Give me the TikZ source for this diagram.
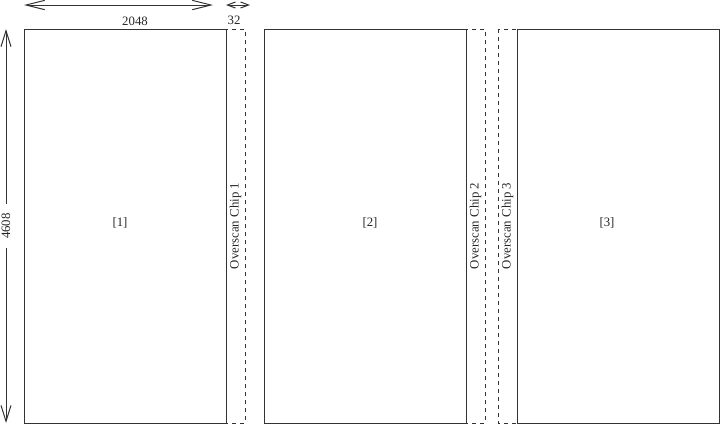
\documentclass[tikz,border=0pt]{standalone}
\usepackage{fontspec}
\setmainfont{Liberation Serif}
\usetikzlibrary{arrows.meta}
\begin{document}
\begin{tikzpicture}[x=0.75pt,y=-0.75pt,
  line width=0.75pt, draw=black!80,
  every node/.style={font=\fontsize{9.6}{11}\selectfont, text=black!85},
  chip/.style={draw=black!80, line width=0.75pt},
  over/.style={draw=black!80, line width=0.75pt, dash pattern=on 3pt off 3pt},
  lbl/.style={inner sep=0pt},
  olbl/.style={inner sep=0pt, rotate=90},
  dim/.style={draw=black!80, line width=0.75pt},
  bigtip/.style={Straight Barb[length=14pt,width=7pt]},
  smalltip/.style={Straight Barb[length=6pt,width=4.5pt]}
]
\useasboundingbox (0,0) rectangle (721,425);
% overscan strips (dashed)
\draw[over] (226,29) rectangle (245,423);
\draw[over] (466,29) rectangle (485,423);
\draw[over] (498,29) rectangle (517,423);
% chips
\draw[chip] (24,29) rectangle (226,423);
\draw[chip] (264,29) rectangle (466,423);
\draw[chip] (517,29) rectangle (719,423);
% labels
\node[lbl] (l1) at (120,223) {[1]};
\node[lbl] (l2) at (370,223) {[2]};
\node[lbl] (l3) at (607,223) {[3]};
\node[olbl] (o1) at (235.5,226) {Overscan Chip 1};
\node[olbl] (o2) at (475.5,226) {Overscan Chip 2};
\node[olbl] (o3) at (507.5,226) {Overscan Chip 3};
% dimension arrows
\coordinate (wa) at (24,5);
\coordinate (wb) at (213,5);
\coordinate (sa) at (226,5);
\coordinate (sb) at (250,5);
\coordinate (ha) at (6,29);
\coordinate (hb) at (6,423);
\draw[dim, {Straight Barb[length=14pt,width=7pt]}-{Straight Barb[length=14pt,width=7pt]}] (wa) -- (wb);
\draw[dim, {Straight Barb[length=6pt,width=4.5pt]}-{Straight Barb[length=6pt,width=4.5pt]}] (sa) -- (sb);
\draw[dim, {Straight Barb[length=12pt,width=7.5pt]}-{Straight Barb[length=12pt,width=7.5pt]}] (ha) -- (hb);
\node[lbl] (w) at (135,21) {2048};
\node[lbl] (s) at (234,20) {32};
\node[rotate=90, fill=white, inner xsep=7pt, inner ysep=2pt] (h) at (6,226) {4608};
\end{tikzpicture}
\end{document}
